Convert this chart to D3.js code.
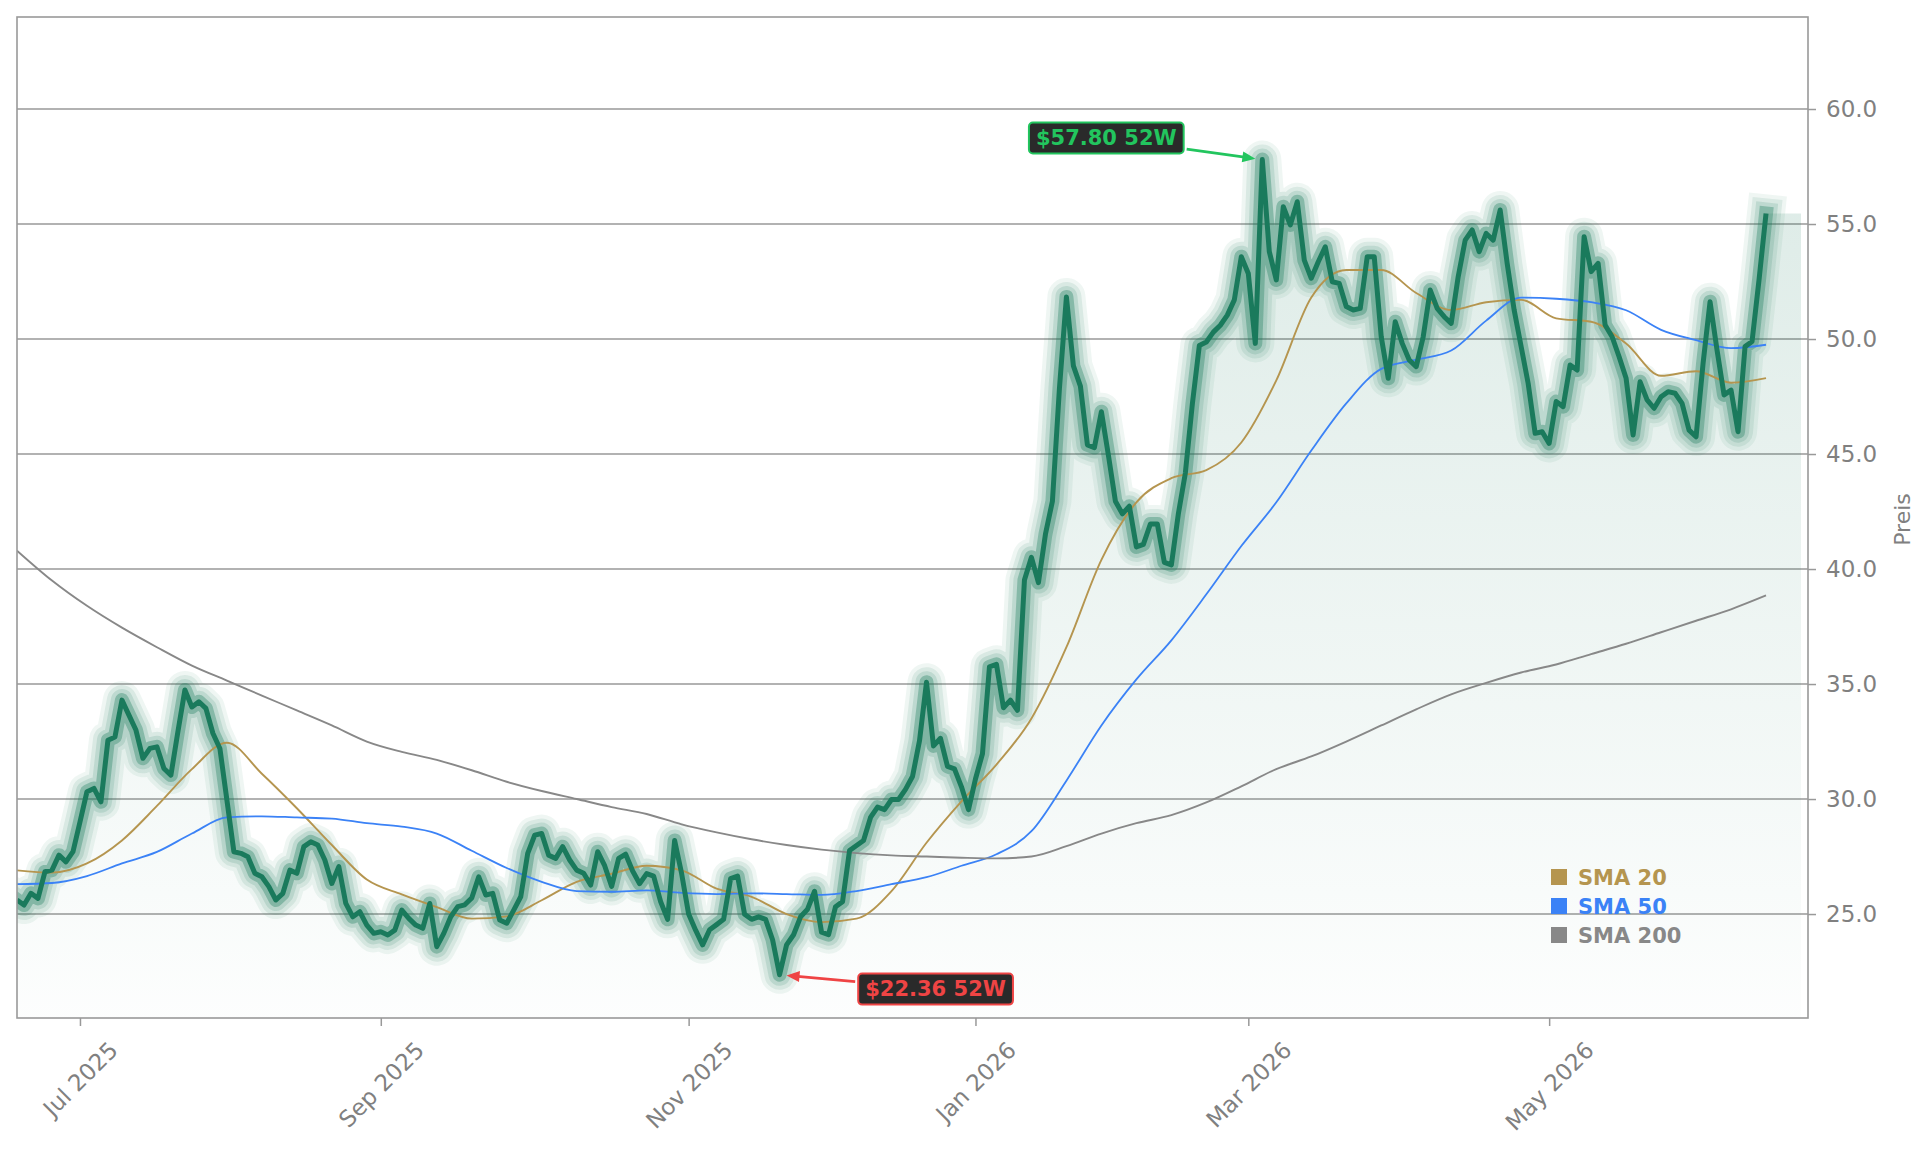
<!DOCTYPE html>
<html>
<head>
<meta charset="utf-8">
<script src="https://cdn.jsdelivr.net/npm/d3@7"></script>
<style>
  body { margin: 0; background: #ffffff; }
  svg { display: block; font-family: "DejaVu Sans", sans-serif; }
</style>
</head>
<body>
<svg id="chart" width="1929" height="1153"></svg>
<script>
// daily closes, one per trading day (starts mid June 2025)
const closes = [
  25.61, 25.39, 25.90, 25.68, 26.84, 26.91, 27.56, 27.27, 27.71, 29.00,
  30.32, 30.46, 29.88, 32.56, 32.70, 34.30, 33.65, 33.00, 31.77, 32.20,
  32.27, 31.33, 31.04, 32.93, 34.74, 34.00, 34.23, 33.94, 32.86, 32.20,
  29.96, 27.71, 27.64, 27.49, 26.77, 26.62, 26.19, 25.61, 25.90, 26.91,
  26.77, 27.93, 28.14, 28.00, 27.35, 26.33, 27.06, 25.46, 24.88, 25.10,
  24.52, 24.16, 24.23, 24.09, 24.30, 25.17, 24.81, 24.52, 24.38, 25.46,
  23.58, 24.16, 24.88, 25.32, 25.40, 25.70, 26.62, 25.83, 25.90, 24.74,
  24.60, 25.17, 25.75, 27.64, 28.43, 28.50, 27.56, 27.42, 27.93, 27.35,
  26.91, 26.77, 26.26, 27.71, 27.10, 26.20, 27.42, 27.60, 26.87, 26.32,
  26.76, 26.65, 25.54, 24.77, 28.20, 26.76, 25.00, 24.30, 23.66, 24.32,
  24.54, 24.77, 26.54, 26.65, 24.99, 24.77, 24.88, 24.77, 23.88, 22.36,
  23.66, 24.10, 24.88, 25.21, 25.99, 24.21, 24.10, 25.32, 25.54, 27.76,
  27.98, 28.20, 29.20, 29.65, 29.54, 29.98, 29.98, 30.42, 30.98, 32.53,
  35.08, 32.31, 32.64, 31.42, 31.31, 30.53, 29.54, 30.87, 31.97, 35.75,
  35.86, 33.97, 34.30, 33.86, 39.52, 40.51, 39.41, 41.51, 42.95, 47.84,
  51.83, 48.83, 47.95, 45.40, 45.28, 46.84, 44.95, 42.95, 42.40, 42.73,
  40.96, 41.07, 41.96, 41.96, 40.29, 40.18, 42.40, 44.17, 47.17, 49.72,
  49.87, 50.30, 50.60, 51.04, 51.70, 53.58, 52.85, 49.81, 57.80, 53.80,
  52.57, 55.75, 54.96, 55.97, 53.43, 52.64, 53.36, 54.01, 52.49, 52.42,
  51.41, 51.26, 51.33, 53.58, 53.58, 50.10, 48.29, 50.75, 49.81, 49.09,
  48.80, 50.10, 52.13, 51.33, 50.97, 50.68, 52.71, 54.30, 54.74, 53.80,
  54.59, 54.30, 55.61, 53.29, 51.26, 49.67, 48.07, 45.90, 45.97, 45.46,
  47.28, 47.06, 48.87, 48.65, 54.45, 52.93, 53.29, 50.61, 50.10, 49.23,
  48.29, 45.83, 48.14, 47.35, 46.99, 47.49, 47.71, 47.64, 47.20, 46.04,
  45.75, 48.94, 51.62, 49.52, 47.57, 47.78, 45.97, 49.67, 49.89, 52.57,
  55.46
];

// moving averages, read every 5th trading day
const smaDays = [0, 5, 10, 15, 20, 25, 30, 35, 40, 45, 50, 55, 60, 65, 70, 75, 80, 85, 90, 95,
  100, 105, 110, 115, 120, 125, 130, 135, 140, 145, 150, 155, 160, 165, 170, 175, 180, 185, 190, 195,
  200, 205, 210, 215, 220, 225, 230, 235, 240, 245, 250];
const sma20 = [26.9, 26.8, 27.2, 28.2, 29.7, 31.3, 32.45, 31.1, 29.6, 28.0,
  26.5, 25.85, 25.3, 24.8, 24.9, 25.6, 26.4, 26.75, 27.1, 26.9,
  26.1, 25.75, 25.0, 24.65, 24.8, 26.0, 28.1, 29.9, 31.5, 33.5,
  36.6, 40.4, 42.9, 43.95, 44.3, 45.5, 48.2, 51.8, 53.0, 53.0,
  52.0, 51.26, 51.6, 51.7, 50.9, 50.75, 49.8, 48.4, 48.6, 48.1, 48.3];
const sma50 = [26.3, 26.35, 26.65, 27.2, 27.7, 28.5, 29.2, 29.25, 29.2, 29.15,
  28.95, 28.8, 28.5, 27.75, 27.0, 26.4, 26.0, 25.97, 26.03, 25.92,
  25.87, 25.9, 25.87, 25.83, 26.0, 26.3, 26.6, 27.1, 27.6, 28.6,
  30.8, 33.2, 35.2, 36.9, 38.9, 41.0, 42.9, 45.15, 47.2, 48.7,
  49.1, 49.5, 50.8, 51.8, 51.75, 51.6, 51.25, 50.4, 49.95, 49.6, 49.75];
const sma200 = [40.8, 39.5, 38.4, 37.45, 36.6, 35.8, 35.15, 34.5, 33.85, 33.2,
  32.5, 32.05, 31.7, 31.25, 30.75, 30.35, 30.0, 29.65, 29.35, 28.9,
  28.55, 28.25, 28.0, 27.8, 27.65, 27.55, 27.5, 27.45, 27.42, 27.5,
  27.95, 28.5, 28.95, 29.3, 29.85, 30.55, 31.3, 31.85, 32.5, 33.2,
  33.9, 34.55, 35.05, 35.5, 35.85, 36.3, 36.75, 37.25, 37.75, 38.25, 38.85];

// month starts as trading-day positions
const monthTicks = [9, 52, 96, 137, 176, 219];
const monthLabels = ["Jul 2025", "Sep 2025", "Nov 2025", "Jan 2026", "Mar 2026", "May 2026"];
const priceTicks = [25, 30, 35, 40, 45, 50, 55, 60];

const smaNames = ["SMA 20", "SMA 50", "SMA 200"];
const smaColors = ["#b5954f", "#3b82f6", "#888888"];

/** Class drawing the price chart. */
class PriceChart {

  constructor() {
    this.svg = d3.select("#chart");
    this.x = d3.scaleLinear().domain([0, 256]).range([17, 1808]);
    this.y = d3.scaleLinear().domain([20.48, 64.0]).range([1018, 17]);
    this.lineColor = "#1a7a5c";
    this.gray = "#999999";
  }

  drawGrid() {
    let x = this.x, y = this.y;
    this.svg.append("g")
      .selectAll("line")
      .data(priceTicks)
      .enter()
      .append("line")
      .attr("x1", x.range()[0])
      .attr("x2", x.range()[1])
      .attr("y1", d => y(d))
      .attr("y2", d => y(d))
      .attr("stroke", this.gray)
      .attr("stroke-width", 1.5)
      ;
  }

  drawPrice() {
    let x = this.x, y = this.y;
    let defs = this.svg.append("defs");

    defs.append("clipPath")
      .attr("id", "plotClip")
      .append("rect")
      .attr("x", x.range()[0])
      .attr("y", y.range()[1])
      .attr("width", x.range()[1] - x.range()[0])
      .attr("height", y.range()[0] - y.range()[1])
      ;

    let grad = defs.append("linearGradient")
      .attr("id", "fillGrad")
      .attr("gradientUnits", "userSpaceOnUse")
      .attr("x1", 0).attr("x2", 0)
      .attr("y1", y(d3.max(closes)))
      .attr("y2", y(y.domain()[0]))
      ;
    grad.append("stop").attr("offset", 0).attr("stop-color", this.lineColor).attr("stop-opacity", 0.15);
    grad.append("stop").attr("offset", 1).attr("stop-color", this.lineColor).attr("stop-opacity", 0.01);

    let pts = closes.map((v, i) => [i, v]);
    // the shaded area runs a few days past the last close
    let areaPts = pts.concat([[closes.length + 4, closes[closes.length - 1]]]);

    let area = d3.area()
      .x(d => x(d[0]))
      .y0(y(y.domain()[0]))
      .y1(d => y(d[1]))
      ;
    let line = d3.line()
      .x(d => x(d[0]))
      .y(d => y(d[1]))
      ;

    let g = this.svg.append("g").attr("clip-path", "url(#plotClip)");

    g.append("path")
      .datum(areaPts)
      .attr("d", area)
      .attr("fill", "url(#fillGrad)")
      ;

    // soft glow: stacked wide translucent strokes
    let glow = [[38, 0.07], [30, 0.1], [22, 0.14], [14, 0.34]];
    glow.forEach(gl => {
      g.append("path")
        .datum(pts)
        .attr("d", line)
        .attr("fill", "none")
        .attr("stroke", this.lineColor)
        .attr("stroke-width", gl[0])
        .attr("stroke-opacity", gl[1])
        .attr("stroke-linejoin", "round")
        .attr("stroke-linecap", "square")
        ;
    });

    // moving averages
    let smaLine = d3.line()
      .x((d, i) => x(smaDays[i]))
      .y(d => y(d))
      .curve(d3.curveMonotoneX)
      ;
    [sma20, sma50, sma200].forEach((s, k) => {
      g.append("path")
        .datum(s)
        .attr("d", smaLine)
        .attr("fill", "none")
        .attr("stroke", smaColors[k])
        .attr("stroke-width", k == 1 ? 1.8 : 1.9)
        ;
    });

    g.append("path")
      .datum(pts)
      .attr("d", line)
      .attr("fill", "none")
      .attr("stroke", this.lineColor)
      .attr("stroke-width", 5)
      .attr("stroke-linejoin", "round")
      ;
  }

  drawAxes() {
    let x = this.x, y = this.y;
    let labelColor = "#808080";

    let yAxis = this.svg.append("g")
      .attr("transform", "translate(" + x.range()[1] + ",0)")
      .call(d3.axisRight(y).tickValues(priceTicks).tickFormat(d3.format(".1f")).tickSize(8).tickPadding(10))
      ;
    yAxis.select(".domain").remove();
    yAxis.selectAll(".tick line").attr("stroke", this.gray).attr("stroke-width", 1.5);
    yAxis.selectAll(".tick text")
      .attr("fill", labelColor)
      .style("font-size", "23px")
      .style("font-family", "DejaVu Sans")
      ;

    let xAxis = this.svg.append("g")
      .attr("transform", "translate(0," + y.range()[0] + ")")
      .call(d3.axisBottom(x).tickValues(monthTicks).tickFormat((d, i) => monthLabels[i]).tickSize(8))
      ;
    xAxis.select(".domain").remove();
    xAxis.selectAll(".tick line").attr("stroke", this.gray).attr("stroke-width", 1.5);
    xAxis.selectAll(".tick text")
      .attr("fill", labelColor)
      .style("font-size", "23px")
      .style("font-family", "DejaVu Sans")
      .attr("text-anchor", "middle")
      .attr("y", 0)
      .attr("dy", "0.35em")
      .attr("transform", function() {
        let len = this.getComputedTextLength();
        return "translate(0," + (22 + (len + 17) * 0.3536) + ") rotate(-45)";
      })
      ;

    this.svg.append("text")
      .attr("transform", "translate(1910," + ((y.range()[0] + y.range()[1]) / 2 + 2) + ") rotate(-90)")
      .attr("text-anchor", "middle")
      .attr("fill", labelColor)
      .style("font-size", "22px")
      .text("Preis")
      ;

    // frame
    this.svg.append("rect")
      .attr("x", x.range()[0])
      .attr("y", y.range()[1])
      .attr("width", x.range()[1] - x.range()[0])
      .attr("height", y.range()[0] - y.range()[1])
      .attr("fill", "none")
      .attr("stroke", this.gray)
      .attr("stroke-width", 1.6)
      ;
  }

  drawExtreme(idx, color, dx, dy) {
    let px = this.x(idx), py = this.y(closes[idx]);
    let g = this.svg.append("g");

    let label = g.append("text")
      .attr("x", px + dx)
      .attr("y", py + dy)
      .attr("dy", "0.35em")
      .attr("text-anchor", "middle")
      .attr("fill", color)
      .style("font-size", "21px")
      .style("font-weight", "bold")
      .text("$" + d3.format(".2f")(closes[idx]) + " 52W")
      ;
    let bb = label.node().getBBox();
    let bx = bb.x - 7, by = bb.y - 3.5, bw = bb.width + 14, bh = bb.height + 7;

    g.insert("rect", "text")
      .attr("x", bx).attr("y", by)
      .attr("width", bw).attr("height", bh)
      .attr("rx", 4)
      .attr("fill", "#2a2a2a")
      .attr("stroke", color)
      .attr("stroke-width", 2)
      ;

    // arrow from box edge towards the point
    let cx = bx + bw / 2, cy = by + bh / 2;
    let ux = px - cx, uy = py - cy;
    let len = Math.hypot(ux, uy);
    ux /= len; uy /= len;
    let t = Math.min((bw / 2) / Math.abs(ux), (bh / 2) / Math.abs(uy)) + 3;
    let sx = cx + ux * t, sy = cy + uy * t;
    let ex = px - ux * 7, ey = py - uy * 7;
    let hl = 13, hw = 5.5;
    let bxh = ex - ux * hl, byh = ey - uy * hl;

    g.append("line")
      .attr("x1", sx).attr("y1", sy)
      .attr("x2", bxh + ux * 2).attr("y2", byh + uy * 2)
      .attr("stroke", color)
      .attr("stroke-width", 2.8)
      ;
    g.append("path")
      .attr("d", "M" + ex + "," + ey +
        "L" + (bxh - uy * hw) + "," + (byh + ux * hw) +
        "L" + (bxh + uy * hw) + "," + (byh - ux * hw) + "Z")
      .attr("fill", color)
      ;
  }

  drawLegend() {
    let g = this.svg.append("g").attr("transform", "translate(1551,877)");
    let rows = g.selectAll("g")
      .data(smaNames)
      .enter()
      .append("g")
      .attr("transform", (d, i) => "translate(0," + i * 29 + ")")
      ;
    rows.append("rect")
      .attr("x", 0).attr("y", -8)
      .attr("width", 16).attr("height", 16)
      .attr("fill", (d, i) => smaColors[i])
      ;
    rows.append("text")
      .attr("x", 27)
      .attr("dy", "0.36em")
      .attr("fill", (d, i) => smaColors[i])
      .style("font-size", "21px")
      .style("font-weight", "bold")
      .text(d => d)
      ;
  }

  draw() {
    this.drawGrid();
    this.drawPrice();
    this.drawAxes();
    let hi = d3.maxIndex(closes), lo = d3.minIndex(closes);
    this.drawExtreme(hi, "#22c55e", -156, -22);
    this.drawExtreme(lo, "#ef4444", 156, 14);
    this.drawLegend();
  }
}

let chart = new PriceChart();
chart.draw();
</script>
</body>
</html>
